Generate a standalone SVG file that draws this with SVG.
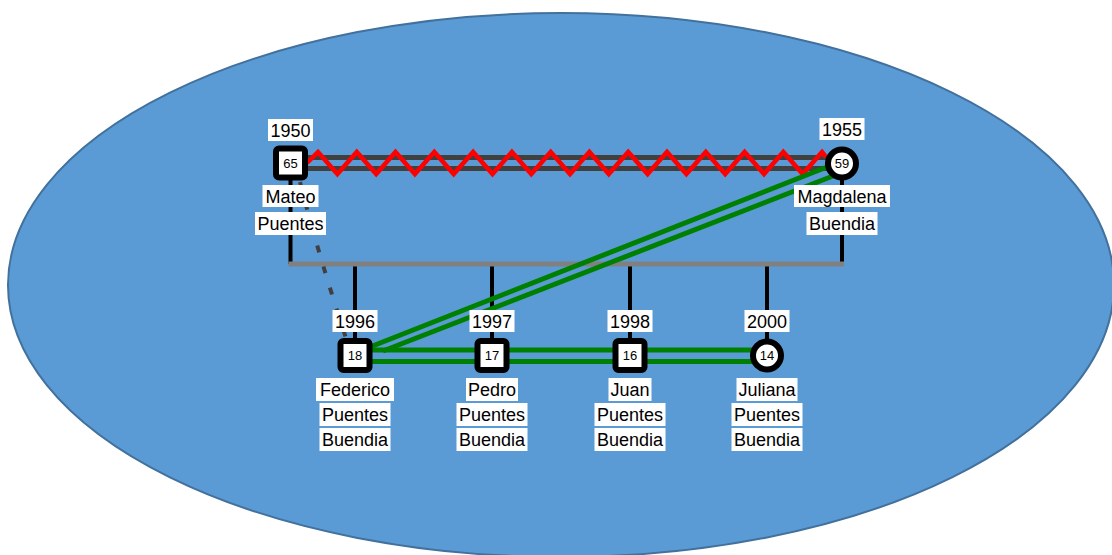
<svg xmlns="http://www.w3.org/2000/svg" width="1112" height="555" viewBox="0 0 1112 555">
<style>
.lbl{fill:#fff}
.t{font-family:"Liberation Sans",Arial,sans-serif;font-size:18px;fill:#000;text-anchor:middle}
.n{font-family:"Liberation Sans",Arial,sans-serif;font-size:13px;fill:#000;text-anchor:middle}
.node{fill:#fff;stroke:#000;stroke-width:6}
.v{stroke:#000;stroke-width:4;fill:none}
.g{stroke:#008000;stroke-width:5;fill:none}
</style>
<rect width="1112" height="555" fill="#fff"/>
<ellipse cx="561" cy="285" rx="553" ry="272" fill="#5B9BD5" stroke="#41719C" stroke-width="2"/>
<g id="connectors">
  <line class="v" x1="290.5" y1="178" x2="290.5" y2="264"/>
  <line class="v" x1="842" y1="178" x2="842" y2="264"/>
  <line class="v" x1="355" y1="264" x2="355" y2="340"/>
  <line class="v" x1="492" y1="264" x2="492" y2="340"/>
  <line class="v" x1="630" y1="264" x2="630" y2="340"/>
  <line class="v" x1="767" y1="264" x2="767" y2="340"/>
  <line x1="288.5" y1="264" x2="844" y2="264" stroke="#808080" stroke-width="5"/>
  <line x1="305" y1="157.5" x2="828" y2="157.5" stroke="#404040" stroke-width="5"/>
  <line x1="305" y1="168.5" x2="828" y2="168.5" stroke="#404040" stroke-width="5"/>
  <polyline fill="none" stroke="#FF0000" stroke-width="4.5" stroke-linejoin="miter" points="307,163 318,152 337.4,174 356.8,152 376.2,174 395.5,152 414.9,174 434.3,152 453.7,174 473.1,152 492.5,174 511.9,152 531.3,174 550.7,152 570,174 589.4,152 608.8,174 628.2,152 647.6,174 667,152 686.4,174 705.8,152 725.2,174 744.6,152 764,174 783.3,152 802.7,174 822,152 826,157"/>
  <line class="g" x1="370" y1="347" x2="827" y2="167"/>
  <line class="g" x1="383" y1="351" x2="833" y2="176"/>
  <line class="g" x1="370" y1="350" x2="752" y2="350"/>
  <line class="g" x1="370" y1="361.5" x2="752" y2="361.5"/>
  <path d="M300,182 Q317,250 346,338" fill="none" stroke="#404040" stroke-width="4" stroke-dasharray="7,15"/>
</g>
<g id="mateo">
  <rect class="node" x="276" y="148.5" width="29" height="29" rx="3"/>
  <text class="n" x="290.5" y="167.5">65</text>
  <rect class="lbl" x="268" y="119" width="45" height="22"/>
  <text class="t" x="290.5" y="136.5">1950</text>
  <rect class="lbl" x="262.5" y="185" width="56" height="22"/>
  <text class="t" x="290.5" y="202.5">Mateo</text>
  <rect class="lbl" x="255" y="212" width="71" height="23"/>
  <text class="t" x="290.5" y="229.5">Puentes</text>
</g>
<g id="magdalena">
  <circle class="node" cx="842" cy="163.5" r="14"/>
  <text class="n" x="842" y="168">59</text>
  <rect class="lbl" x="819.5" y="118" width="45" height="22"/>
  <text class="t" x="842" y="135.5">1955</text>
  <rect class="lbl" x="794" y="185" width="96" height="22"/>
  <text class="t" x="842" y="202.5">Magdalena</text>
  <rect class="lbl" x="806.5" y="212" width="71" height="23"/>
  <text class="t" x="842" y="229.5">Buendia</text>
</g>
<g id="federico">
  <rect class="node" x="340.5" y="341" width="29" height="29" rx="3"/>
  <text class="n" x="355" y="360">18</text>
  <rect class="lbl" x="332.5" y="310" width="45" height="22"/>
  <text class="t" x="355" y="327.5">1996</text>
  <rect class="lbl" x="316" y="378" width="78" height="23"/>
  <text class="t" x="355" y="395.5">Federico</text>
  <rect class="lbl" x="319.5" y="403" width="71" height="23"/>
  <text class="t" x="355" y="420.5">Puentes</text>
  <rect class="lbl" x="319.5" y="428" width="71" height="23"/>
  <text class="t" x="355" y="445.5">Buendia</text>
</g>
<g id="pedro">
  <rect class="node" x="477.5" y="341" width="29" height="29" rx="3"/>
  <text class="n" x="492" y="360">17</text>
  <rect class="lbl" x="469.5" y="310" width="45" height="22"/>
  <text class="t" x="492" y="327.5">1997</text>
  <rect class="lbl" x="466" y="378" width="52" height="23"/>
  <text class="t" x="492" y="395.5">Pedro</text>
  <rect class="lbl" x="456.5" y="403" width="71" height="23"/>
  <text class="t" x="492" y="420.5">Puentes</text>
  <rect class="lbl" x="456.5" y="428" width="71" height="23"/>
  <text class="t" x="492" y="445.5">Buendia</text>
</g>
<g id="juan">
  <rect class="node" x="615.5" y="341" width="29" height="29" rx="3"/>
  <text class="n" x="630" y="360">16</text>
  <rect class="lbl" x="607.5" y="310" width="45" height="22"/>
  <text class="t" x="630" y="327.5">1998</text>
  <rect class="lbl" x="608.5" y="378" width="43" height="23"/>
  <text class="t" x="630" y="395.5">Juan</text>
  <rect class="lbl" x="594.5" y="403" width="71" height="23"/>
  <text class="t" x="630" y="420.5">Puentes</text>
  <rect class="lbl" x="594.5" y="428" width="71" height="23"/>
  <text class="t" x="630" y="445.5">Buendia</text>
</g>
<g id="juliana">
  <circle class="node" cx="767" cy="355.5" r="14"/>
  <text class="n" x="767" y="360">14</text>
  <rect class="lbl" x="744.5" y="310" width="45" height="22"/>
  <text class="t" x="767" y="327.5">2000</text>
  <rect class="lbl" x="736.5" y="378" width="61" height="23"/>
  <text class="t" x="767" y="395.5">Juliana</text>
  <rect class="lbl" x="731.5" y="403" width="71" height="23"/>
  <text class="t" x="767" y="420.5">Puentes</text>
  <rect class="lbl" x="731.5" y="428" width="71" height="23"/>
  <text class="t" x="767" y="445.5">Buendia</text>
</g>
</svg>
